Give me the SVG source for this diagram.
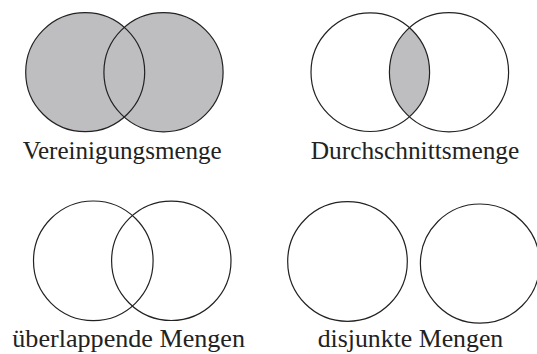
<svg xmlns="http://www.w3.org/2000/svg" width="537" height="354" viewBox="0 0 537 354">
<style>
.c{fill:none;stroke:#222;stroke-width:1.2}
.f{fill:#bebec1;stroke:none}
text{font-family:'Liberation Serif',serif;font-size:24.5px;fill:#222}
</style>
<defs>
<clipPath id="clipA"><circle cx="370.3" cy="72.2" r="59.3"/></clipPath>
</defs>
<rect width="537" height="354" fill="#fff"/>
<g id="union">
<circle class="f" cx="85.2" cy="72.2" r="59.5"/>
<circle class="f" cx="163.5" cy="72.2" r="59.6"/>
<circle class="c" cx="85.2" cy="72.2" r="59.5"/>
<circle class="c" cx="163.5" cy="72.2" r="59.6"/>
<text x="22.7" y="158.5" textLength="199" lengthAdjust="spacingAndGlyphs">Vereinigungsmenge</text>
</g>
<g id="intersection">
<circle class="f" cx="449" cy="72.2" r="59.6" clip-path="url(#clipA)"/>
<circle class="c" cx="370.3" cy="72.2" r="59.3"/>
<circle class="c" cx="449" cy="72.2" r="59.6"/>
<text x="310.7" y="158.5" textLength="208.6" lengthAdjust="spacingAndGlyphs">Durchschnittsmenge</text>
</g>
<g id="overlap">
<circle class="c" cx="93.3" cy="260.8" r="59.8"/>
<circle class="c" cx="171.3" cy="260.8" r="59.7"/>
<text x="12.3" y="346.5" textLength="232.7" lengthAdjust="spacingAndGlyphs">überlappende Mengen</text>
</g>
<g id="disjoint">
<circle class="c" cx="347.5" cy="261.5" r="59.8"/>
<circle class="c" cx="480" cy="263.6" r="59.6"/>
<text x="317.7" y="346.5" textLength="185.6" lengthAdjust="spacingAndGlyphs">disjunkte Mengen</text>
</g>
</svg>
